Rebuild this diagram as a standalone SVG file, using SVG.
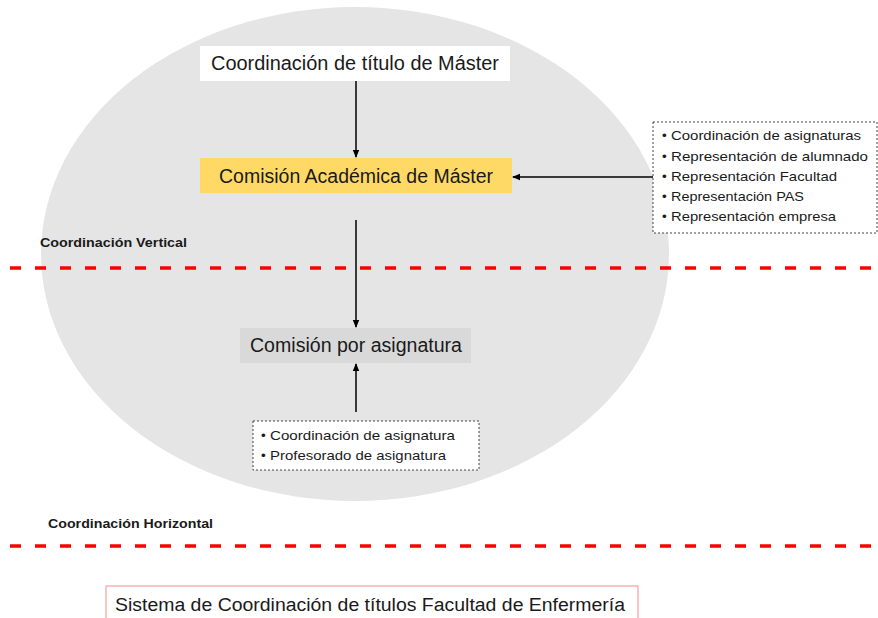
<svg xmlns="http://www.w3.org/2000/svg" width="878" height="618" viewBox="0 0 878 618">
<defs>
<style>
text{font-family:"Liberation Sans",Arial,sans-serif;fill:#1a1a1a}
.big{font-size:19.5px}
.sm{font-size:13.5px}
.lbl{font-size:13px;font-weight:bold}
.conn{stroke:#000;stroke-width:1.5;fill:none}
.red{stroke:#ff0000;stroke-width:3.5;stroke-dasharray:11 14;fill:none}
.dash{fill:#fff;stroke:#444;stroke-width:1;stroke-dasharray:2 2}
</style>
<marker id="ah" markerWidth="8" markerHeight="8" refX="7" refY="4" orient="auto" markerUnits="userSpaceOnUse">
<path d="M0,0.8 L8,4 L0,7.2 Z" fill="#000"/>
</marker>
</defs>
<rect width="878" height="618" fill="#fff"/>
<ellipse id="ellipse" cx="355" cy="254" rx="314" ry="247" fill="#e5e5e5"/>
<g id="lines">
<line class="red" x1="10" y1="268" x2="878" y2="268"/>
<line class="red" x1="10" y1="546" x2="878" y2="546"/>
<text class="lbl" x="40" y="247" textLength="147" lengthAdjust="spacingAndGlyphs">Coordinación Vertical</text>
<text class="lbl" x="48" y="528" textLength="165" lengthAdjust="spacingAndGlyphs">Coordinación Horizontal</text>
</g>
<g id="connectors">
<line class="conn" x1="356" y1="81" x2="356" y2="157" marker-end="url(#ah)"/>
<line class="conn" x1="653" y1="177" x2="513" y2="177" marker-end="url(#ah)"/>
<line class="conn" x1="356" y1="220" x2="356" y2="327" marker-end="url(#ah)"/>
<line class="conn" x1="356" y1="412" x2="356" y2="364" marker-end="url(#ah)"/>
</g>
<g id="n-titulo">
<rect x="200" y="46" width="310" height="35" fill="#fff"/>
<text class="big" x="355" y="70" text-anchor="middle" textLength="288" lengthAdjust="spacingAndGlyphs">Coordinación de título de Máster</text>
</g>
<g id="n-comision-academica">
<rect x="200" y="158" width="312" height="35" fill="#ffd966"/>
<text class="big" x="356" y="183" text-anchor="middle" textLength="274" lengthAdjust="spacingAndGlyphs">Comisión Académica de Máster</text>
</g>
<g id="n-comision-asignatura">
<rect x="240" y="328" width="231" height="35" fill="#d9d9d9"/>
<text class="big" x="356" y="352" text-anchor="middle" textLength="212" lengthAdjust="spacingAndGlyphs">Comisión por asignatura</text>
</g>
<g id="n-miembros-academica">
<rect class="dash" x="653" y="122" width="224" height="111"/>
<text class="sm" x="662" y="140">•</text><text class="sm" x="671" y="140" textLength="190" lengthAdjust="spacingAndGlyphs">Coordinación de asignaturas</text>
<text class="sm" x="662" y="161">•</text><text class="sm" x="671" y="161" textLength="197" lengthAdjust="spacingAndGlyphs">Representación de alumnado</text>
<text class="sm" x="662" y="181">•</text><text class="sm" x="671" y="181" textLength="166" lengthAdjust="spacingAndGlyphs">Representación Facultad</text>
<text class="sm" x="662" y="201">•</text><text class="sm" x="671" y="201" textLength="133" lengthAdjust="spacingAndGlyphs">Representación PAS</text>
<text class="sm" x="662" y="221">•</text><text class="sm" x="671" y="221" textLength="165" lengthAdjust="spacingAndGlyphs">Representación empresa</text>
</g>
<g id="n-miembros-asignatura">
<rect class="dash" x="253" y="421" width="226" height="49"/>
<text class="sm" x="261" y="440">•</text><text class="sm" x="270" y="440" textLength="185" lengthAdjust="spacingAndGlyphs">Coordinación de asignatura</text>
<text class="sm" x="261" y="460">•</text><text class="sm" x="270" y="460" textLength="176" lengthAdjust="spacingAndGlyphs">Profesorado de asignatura</text>
</g>
<g id="n-sistema">
<rect x="106" y="586" width="532" height="40" fill="#fff" stroke="#f4a0a0" stroke-width="1.2"/>
<text x="115" y="611" style="font-size:18px" textLength="510" lengthAdjust="spacingAndGlyphs">Sistema de Coordinación de títulos Facultad de Enfermería</text>
</g>
</svg>
